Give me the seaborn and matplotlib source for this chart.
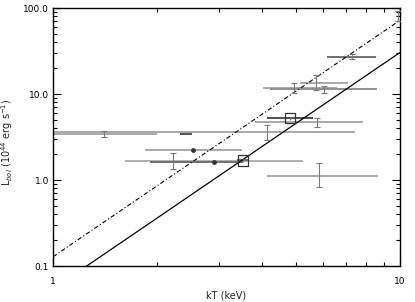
import numpy as np
import pandas as pd
import matplotlib
matplotlib.use('Agg')
import matplotlib.pyplot as plt
from matplotlib.ticker import FixedLocator, NullFormatter, LogLocator
import seaborn as sns

#%%% data
kT     = [1.40, 2.42, 2.53, 2.22, 2.91, 3.52, 4.13, 4.82, 5.75, 5.86, 7.26, 5.73, 4.95, 6.04, 9.90]
kT_lo  = [0.90, 2.32, 1.84, 1.61, 1.90, 3.40, 0.90, 4.13, 3.82, 4.13, 6.17, 5.15, 4.03, 4.22, 9.90]
kT_hi  = [2.00, 2.52, 3.50, 5.24, 3.52, 3.64, 7.42, 5.63, 7.83, 8.64, 8.53, 7.10, 6.57, 8.57, 9.90]
L      = [3.47, 3.45, 2.21, 1.66, 1.63, 1.69, 3.57, 5.22, 4.72, 1.12, 27.2, 13.3, 11.7, 11.3, 80.0]
L_lo   = [3.14, 3.45, 2.21, 1.33, 1.63, 1.60, 2.92, 5.00, 4.17, 0.836, 25.3, 11.1, 10.2, 10.4, 70.0]
L_hi   = [3.74, 3.45, 2.21, 2.04, 1.63, 1.78, 4.36, 5.45, 5.22, 1.56, 28.9, 16.6, 13.3, 12.4, 92.0]
mark   = ['', '', 'o', '', 'o', 's', '', 's', '', '', '', '', '', '', '']

# fitted relations (end points)
fit_kT = [1.0, 10.0]
fit_solid = [0.054, 30.4]
fit_dashdot = [0.128, 72.0]

yticks = [0.1, 1.0, 10.0, 100.0]
ytick_labels = ['0.1', '1.0', '10.0', '100.0']
xticks = [1, 10]
xtick_labels = ['1', '10']

# style only
hcol = ['#a8a8a8', '#555555', '#a8a8a8', '#b0b0b0', '#707070', '#707070', '#a8a8a8',
        '#505050', '#a8a8a8', '#a8a8a8', '#707070', '#a8a8a8', '#a8a8a8', '#909090', '#a8a8a8']

#%%% plot
sns.set_style('ticks')
plt.rcParams['font.family'] = ['DejaVu Sans']

fig = plt.figure(figsize=(4.15, 3.02), dpi=100)
ax = fig.add_axes([53/415, 36/302, 347/415, 258/302])
ax.set_xscale('log')
ax.set_yscale('log')

df = pd.DataFrame({'kT': kT, 'kT_lo': kT_lo, 'kT_hi': kT_hi,
                   'L': L, 'L_lo': L_lo, 'L_hi': L_hi, 'mark': mark})

for i, r in df.iterrows():
    ax.hlines(r.L, r.kT_lo, r.kT_hi, color=hcol[i], lw=1.4, zorder=2)
    if r.L_hi > r.L_lo and r.mark == '':
        ax.errorbar(r.kT, r.L, yerr=[[r.L - r.L_lo], [r.L_hi - r.L]], fmt='none',
                    ecolor='#7a7a7a', elinewidth=0.8, capsize=2, capthick=0.8, zorder=3)

dots = df[df.mark == 'o']
sq = df[df.mark == 's']
sns.scatterplot(data=dots, x='kT', y='L', ax=ax, marker='o', s=10, color='#303030',
                edgecolor='#303030', zorder=4)
sns.scatterplot(data=sq, x='kT', y='L', ax=ax, marker='s', s=55, facecolor='none',
                edgecolor='#303030', linewidth=0.9, zorder=4)
for i, r in sq.iterrows():
    ax.vlines(r.kT, r.L_lo, r.L_hi, color='#707070', lw=0.8, zorder=3)

sns.lineplot(x=fit_kT, y=fit_solid, ax=ax, color='black', lw=0.9)
sns.lineplot(x=fit_kT, y=fit_dashdot, ax=ax, color='black', lw=0.8,
             linestyle=(0, (4, 2, 1, 2)))

ax.set_xlim(1, 10)
ax.set_ylim(0.1, 100)
ax.yaxis.set_major_locator(FixedLocator(yticks))
ax.set_yticklabels(ytick_labels)
ax.yaxis.set_minor_locator(LogLocator(base=10, subs=np.arange(2, 10)))
ax.yaxis.set_minor_formatter(NullFormatter())
ax.xaxis.set_major_locator(FixedLocator(xticks))
ax.set_xticklabels(xtick_labels)
ax.xaxis.set_minor_locator(LogLocator(base=10, subs=np.arange(2, 10)))
ax.xaxis.set_minor_formatter(NullFormatter())

ax.tick_params(which='both', direction='in', top=True, right=True, colors='black',
               labelsize=6.5, width=0.8)
ax.tick_params(axis='y', which='major', length=6, pad=3)
ax.tick_params(axis='x', which='major', length=6, pad=8)
ax.tick_params(which='minor', length=3)
for s in ax.spines.values():
    s.set_linewidth(1.0)
    s.set_color('black')

ax.set_xlabel('kT (keV)', fontsize=7, labelpad=3)
ax.set_ylabel('L$_{bol}$ (10$^{44}$ erg s$^{-1}$)', fontsize=7)
ax.yaxis.set_label_coords(-0.11, 0.48)

fig.savefig('out.png', dpi=100, facecolor='white')
